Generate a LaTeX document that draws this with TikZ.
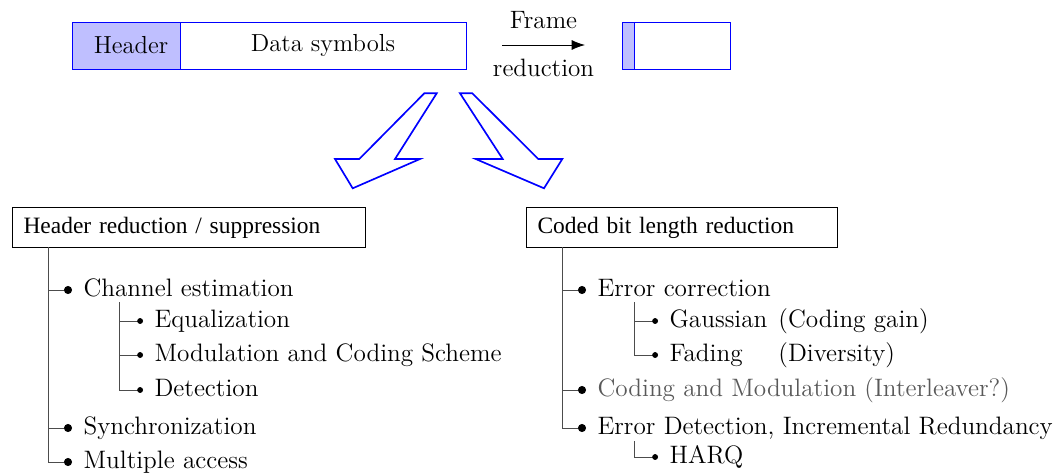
\documentclass[tikz,border=0pt]{standalone}
\usepackage{fontspec}
\newfontfamily\boxfont{Liberation Serif}
\usetikzlibrary{arrows.meta,positioning}

\tikzset{
  field/.style={draw=blue, outer sep=0pt, inner sep=0pt, minimum height=21.15pt,
                font=\fontsize{11.1}{13}\selectfont},
  topic/.style={draw, anchor=north west, inner xsep=5pt, inner ysep=0pt, align=left,
                minimum height=18pt, font=\boxfont\fontsize{10.55}{12}\selectfont},
  item/.style={anchor=west, inner xsep=5pt, inner ysep=0pt, text height=1.6ex, text depth=0.3ex,
               font=\fontsize{11.35}{13}\selectfont},
  branch/.style={black!70, -{Circle[length=3.6pt, color=black]}},
  subbranch/.style={black!70, -{Circle[length=2.6pt, color=black]}},
  bigarrow/.style={draw=blue, line width=0.75pt, line join=miter},
}

\begin{document}
\begin{tikzpicture}[x=0.45pt, y=-0.45pt]
    \useasboundingbox (0,0) rectangle (1056,475);

    % ---- Trama original ----
    \node[field, fill=blue!25, minimum width=48.6pt, anchor=north west] (hdr) at (72,22) {\hspace{4.5pt}Header};
    \node[field, minimum width=128.7pt, right=0pt of hdr] (data) {Data symbols\hspace{5pt}};

    % ---- Flecha de reduccion ----
    \coordinate (fr1) at (502,45);
    \coordinate (fr2) at (585,45);
    \draw[-{Latex[length=6pt]}] (fr1) -- (fr2)
        node[midway, above=4pt, font=\fontsize{11.3}{13}\selectfont] {Frame}
        node[midway, below=3pt, font=\fontsize{11.3}{13}\selectfont] {reduction};

    % ---- Trama reducida ----
    \node[field, fill=blue!25, minimum width=5.4pt, anchor=north west] (shdr) at (622,22) {};
    \node[field, minimum width=43.2pt, right=0pt of shdr] (sdata) {};

    % Flechas huecas hacia abajo
    \draw[bigarrow] (424.3,93.3) -- (436.7,93.3) -- (395,159) -- (420,159)
        -- (352.7,188.3) -- (335,159) -- (359.3,159) -- cycle;
    \draw[bigarrow] (460,93.3) -- (472.3,93.3) -- (538.3,159) -- (562.3,159)
        -- (544,188.3) -- (475.7,159) -- (502.7,159) -- cycle;

    % ---- Rama izquierda ----
    \node[topic, text width=148.85pt] (hred) at (12,207) {Header reduction / suppression};
    \coordinate (ltop) at (48,247);
    \node[item] (chan) at (72,290) {Channel estimation};
    \node[item] (equa) at (143,321) {Equalization};
    \node[item] (mcs)  at (143,355) {Modulation and Coding Scheme};
    \node[item] (det)  at (143,390) {Detection};
    \node[item] (sync) at (72,428) {Synchronization};
    \node[item] (mult) at (72,462) {Multiple access};
    \coordinate (ctop) at (119,302);

    \draw[branch] (ltop) |- (chan.west);
    \draw[branch] (ltop) |- (sync.west);
    \draw[branch] (ltop) |- (mult.west);
    \draw[subbranch] (ctop) |- (equa.west);
    \draw[subbranch] (ctop) |- (mcs.west);
    \draw[subbranch] (ctop) |- (det.west);

    % ---- Rama derecha ----
    \node[topic, text width=130pt] (cred) at (526,207) {Coded bit length reduction};
    \coordinate (rtop) at (562,247);
    \node[item] (ecor) at (586,290) {Error correction};
    \node[item] (gaus) at (658,321) {Gaussian};
    \node[item, inner xsep=0pt] (gain) at (778,321) {(Coding gain)};
    \node[item] (fad)  at (658,355) {Fading};
    \node[item, inner xsep=0pt] (div) at (778,355) {(Diversity)};
    \node[item, black!65] (cmod) at (586,390) {Coding and Modulation (Interleaver?)};
    \node[item] (edet) at (586,428) {Error Detection, Incremental Redundancy};
    \node[item] (harq) at (658,457) {HARQ};
    \coordinate (etop) at (634,302);
    \coordinate (htop) at (634,441);

    \draw[branch] (rtop) |- (ecor.west);
    \draw[branch] (rtop) |- (cmod.west);
    \draw[branch] (rtop) |- (edet.west);
    \draw[subbranch] (etop) |- (gaus.west);
    \draw[subbranch] (etop) |- (fad.west);
    \draw[subbranch] (htop) |- (harq.west);
\end{tikzpicture}
\end{document}
